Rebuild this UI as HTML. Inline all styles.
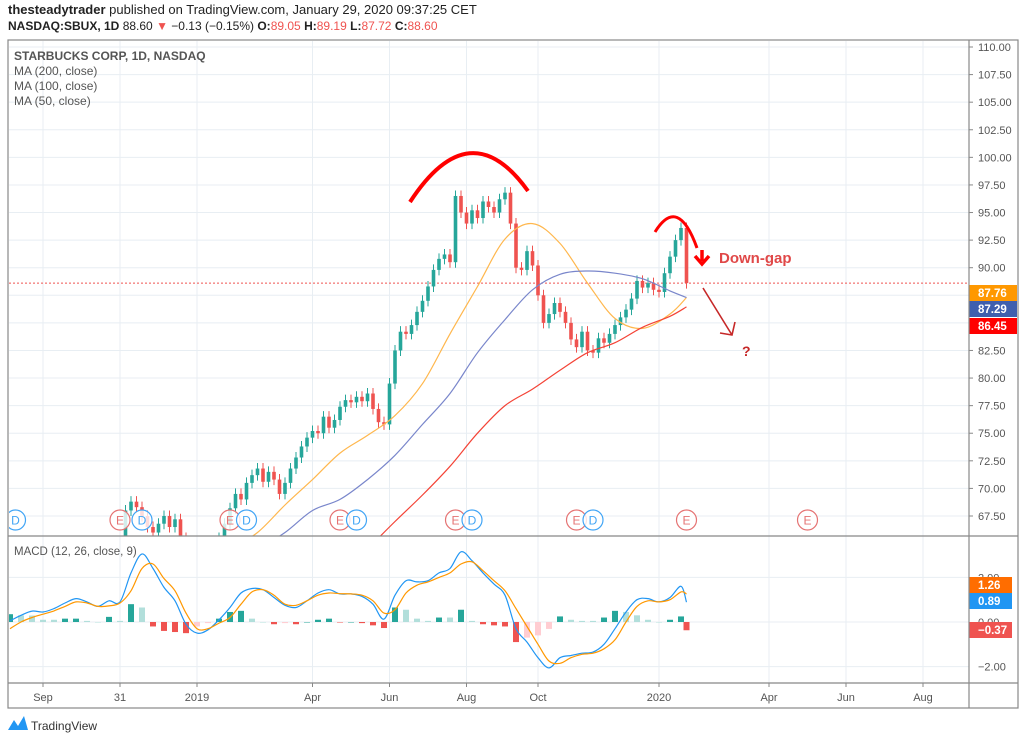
<!DOCTYPE html>
<html><head><meta charset="utf-8">
<style>
body{margin:0;background:#fff;width:1024px;height:742px;overflow:hidden;font-family:"Liberation Sans",sans-serif;}
svg text{font-family:"Liberation Sans",sans-serif;}
</style></head>
<body>
<svg id="c" width="1024" height="742" viewBox="0 0 1024 742" xmlns="http://www.w3.org/2000/svg">
<text x="8" y="14" font-size="13" fill="#222"><tspan font-weight="bold">thesteadytrader</tspan> published on TradingView.com, January 29, 2020 09:37:25 CET</text>
<text x="8" y="30" font-size="12" fill="#222"><tspan font-weight="bold">NASDAQ:SBUX, 1D</tspan> 88.60 <tspan fill="#ef5350">▼</tspan> −0.13 (−0.15%) <tspan font-weight="bold">O:</tspan><tspan fill="#ef5350">89.05</tspan> <tspan font-weight="bold">H:</tspan><tspan fill="#ef5350">89.19</tspan> <tspan font-weight="bold">L:</tspan><tspan fill="#ef5350">87.72</tspan> <tspan font-weight="bold">C:</tspan><tspan fill="#ef5350">88.60</tspan></text>
<defs>
<clipPath id="mainClip"><rect x="9" y="41" width="960" height="495"/></clipPath>
<clipPath id="macdClip"><rect x="9" y="537" width="960" height="146"/></clipPath>
</defs>
<g id="grid"></g>
<g id="main" clip-path="url(#mainClip)"></g>
<g id="macd" clip-path="url(#macdClip)"></g>
<g id="axes"></g>
<g id="frame">
<rect x="8" y="40" width="1010" height="668" fill="none" stroke="#888" stroke-width="1.2"/>
<line x1="969" y1="40" x2="969" y2="708" stroke="#888" stroke-width="1.2"/>
<line x1="8" y1="536" x2="1018" y2="536" stroke="#888" stroke-width="1.2"/>
<line x1="8" y1="683" x2="1018" y2="683" stroke="#888" stroke-width="1.2"/>
</g>
<text x="14" y="60" font-size="12" fill="#555" font-weight="bold">STARBUCKS CORP, 1D, NASDAQ</text>
<text x="14" y="75" font-size="12" fill="#555">MA (200, close)</text>
<text x="14" y="90" font-size="12" fill="#555">MA (100, close)</text>
<text x="14" y="105" font-size="12" fill="#555">MA (50, close)</text>
<text x="14" y="555" font-size="11.5" fill="#555">MACD (12, 26, close, 9)</text>
<g>
<path d="M410,202 Q470,110 528,191" fill="none" stroke="#f00" stroke-width="4"/>
<path d="M655,232 Q678,195 697,248" fill="none" stroke="#f00" stroke-width="3"/>
<path d="M702,250 L702,261 M695,256 L702,264 L709,256" fill="none" stroke="#f00" stroke-width="3.5"/>
<text x="719" y="263" font-size="15" font-weight="bold" fill="#e04848">Down-gap</text>
<path d="M703,288 L732,335 M720,333 L732,335 L735,322" fill="none" stroke="#c62828" stroke-width="1.6"/>
<text x="742" y="356" font-size="14" font-weight="bold" fill="#c62828">?</text>
</g>
<g>
<path d="M8,730 L14,720 L18,726 L24,716 L28,730 Z" fill="#2196f3"/>
<text x="31" y="730" font-size="12" fill="#333">TradingView</text>
</g>
</svg>
<script>
const closes=[52.5,53,52.8,53.5,54.5,55,55.5,56,56.5,57,56.8,57.2,57,57.5,58,57.5,58,58.5,58.6,59,
65,68,68.8,68.3,67.5,66.5,66,66.8,67.5,66.5,67.2,65.5,64,63,62.5,63.5,64.5,65,65.5,66.8,
68.2,69.5,69,70.5,71.2,71.8,70.6,71.5,70.8,69.5,70.5,71.8,72.8,73.8,74.6,75.2,75,76.5,75.5,76.2,
77.4,78,77.8,78.3,77.9,78.6,77.2,76,75.8,79.5,82.5,84.2,84,84.8,86,87,88.3,89.8,90.8,91.2,
90.5,96.5,95,94,95.2,94.5,96,95.5,95,96.2,96.8,94,90,89.8,91.5,90.2,87.5,85,85.8,86.8,
86,85,83.5,82.8,84.2,82.5,82.3,83.6,83.2,84,84.8,85.5,86.2,87.2,88.8,88.2,88.6,88,87.8,89.5,
91,92.5,93.6,88.6];
const maIdx=[40,45,50,55,60,65,70,75,80,85,90,95,100,105,110,115,120,123];
const ma50=[64.5,66,68.5,70.8,73.2,74.8,76.6,79.5,84,88.3,92.6,94,92.2,88.6,85.4,84.5,85.8,87.3];
const ma100=[null,64.5,66,68,69,70.8,73,75.8,78.6,82.3,85.3,88,89.4,89.7,89.5,89,87.9,87.3];
const ma200=[null,null,null,null,null,64.5,67,69.4,72,75,77.5,79,80.7,82.3,83.2,84.6,85.6,86.45];
const macdIdx=[0,2,4,6,8,10,12,14,16,18,20,22,24,26,28,30,32,34,36,38,40,42,44,46,48,50,52,54,56,58,60,62,64,66,68,70,72,74,76,78,80,82,84,86,88,90,92,94,96,98,100,102,104,106,108,110,112,114,116,118,120,122,123];
const macdLine=[0.05,0.3,0.49,0.45,0.6,0.85,1.05,0.9,0.7,0.95,0.9,2.2,3.05,2.4,1.55,0.95,-0.1,-0.5,-0.35,0.1,0.65,1.3,1.5,1.45,1.1,0.75,0.65,0.95,1.3,1.45,1.26,1.26,1.15,0.8,0.13,1.2,1.85,1.8,1.85,2.2,2.4,3.15,2.75,2.2,1.7,1.2,-0.3,-0.9,-1.6,-2.06,-1.6,-1.5,-1.4,-1.35,-1.0,-0.3,0.45,1.0,1.05,0.9,1.1,1.6,0.89];
const signalLine=[-0.3,0.0,0.2,0.35,0.5,0.7,0.9,0.85,0.7,0.72,0.85,1.4,2.4,2.6,1.95,1.4,0.4,-0.3,-0.3,-0.05,0.2,0.8,1.35,1.45,1.2,0.8,0.75,0.95,1.2,1.3,1.27,1.26,1.2,0.95,0.4,0.55,1.3,1.65,1.8,2.0,2.2,2.6,2.7,2.3,1.85,1.4,0.6,-0.2,-1.0,-1.75,-1.85,-1.6,-1.45,-1.4,-1.2,-0.8,0.0,0.7,0.95,0.9,1.0,1.35,1.26];
const priceTicks=["110.00","107.50","105.00","102.50","100.00","97.50","95.00","92.50","90.00","87.50","85.00","82.50","80.00","77.50","75.00","72.50","70.00","67.50"];
const macdTicks=["2.00","0.00","-2.00"];
const timeLabels=["Sep","31","2019","Apr","Jun","Aug","Oct","2020","Apr","Jun","Aug"];
const timeIdx=[6,20,34,55,69,83,96,118,138,152,166];
const events=[["D",1],["E",20],["D",24],["E",40],["D",43],["E",60],["D",63],["E",81],["D",84],["E",103],["D",106],["E",123],["E",145]];

const NS="http://www.w3.org/2000/svg";
function xs(k){return 10+k*5.5;}
function ys(p){return 47+(110-p)*11.035;}
function ym(v){return 622-v*22.3;}
function mk(tag,attrs,parent){const e=document.createElementNS(NS,tag);for(const a in attrs)e.setAttribute(a,attrs[a]);parent.appendChild(e);return e;}
const grid=document.getElementById('grid'),main=document.getElementById('main'),macd=document.getElementById('macd'),axes=document.getElementById('axes');

priceTicks.forEach(t=>{const y=ys(parseFloat(t));
 const l=mk('line',{x1:9,x2:969,y1:y,y2:y,stroke:'#e8eef3'},grid);
 
 
 const tx=mk('text',{x:978,y:y+4,'font-size':11,fill:'#555'},axes);
 
 
 tx.textContent=t;
 mk('line',{x1:969,x2:973,y1:y,y2:y,stroke:'#888'},axes);});
macdTicks.forEach(t=>{const y=ym(parseFloat(t));
 const l=mk('line',{x1:9,x2:969,y1:y,y2:y,stroke:'#e8eef3'},grid);
 
 
 const tx=mk('text',{x:978,y:y+4,'font-size':11,fill:'#555'},axes);
 
 
 tx.textContent=t.replace('-','−');});
timeLabels.forEach((t,i)=>{const x=xs(timeIdx[i]);
 const l=mk('line',{x1:x,x2:x,y1:41,y2:683,stroke:'#e8eef3'},grid);
 
 
 mk('line',{x1:x,x2:x,y1:683,y2:687,stroke:'#888'},axes);
 const tx=mk('text',{x:x,y:701,'font-size':11,fill:'#555','text-anchor':'middle'},axes);
 
 
 tx.textContent=t;});

const pl=mk('line',{x1:9,x2:969,y1:ys(88.6),y2:ys(88.6),stroke:'#ef5350','stroke-dasharray':'2,2'},main);



closes.forEach((c,k)=>{const o=k>0?closes[k-1]:c;const up=c>=o;const col=up?'#26a69a':'#ef5350';
 const x=xs(k);const hi=Math.max(o,c)+0.5,lo=Math.min(o,c)-0.5;
 const g=mk('g',{},main);
 
 
 mk('line',{x1:x,x2:x,y1:ys(hi),y2:ys(lo),stroke:col,'stroke-width':1},g);
 const top=ys(Math.max(o,c)),bot=ys(Math.min(o,c));
 mk('rect',{x:x-1.8,y:top,width:3.6,height:Math.max(1,bot-top),fill:col},g);});

function line(idx,vals,fy,col,parent,name,w){
 const pts=[];vals.forEach((v,i)=>{if(v!==null)pts.push([xs(idx[i]),fy(v)]);});
 let d='M'+pts[0][0].toFixed(1)+','+pts[0][1].toFixed(1);
 for(let i=0;i<pts.length-1;i++){const p0=pts[Math.max(0,i-1)],p1=pts[i],p2=pts[i+1],p3=pts[Math.min(pts.length-1,i+2)];
  const c1x=p1[0]+(p2[0]-p0[0])/6,c1y=p1[1]+(p2[1]-p0[1])/6,c2x=p2[0]-(p3[0]-p1[0])/6,c2y=p2[1]-(p3[1]-p1[1])/6;
  d+='C'+c1x.toFixed(1)+','+c1y.toFixed(1)+' '+c2x.toFixed(1)+','+c2y.toFixed(1)+' '+p2[0].toFixed(1)+','+p2[1].toFixed(1);}
 const p=mk('path',{d:d,fill:'none',stroke:col,'stroke-width':w||1.2},parent);
 
 }
line(maIdx,ma50,ys,'#ffb74d',main,'ma50-line');
line(maIdx,ma100,ys,'#7986cb',main,'ma100-line');
line(maIdx,ma200,ys,'#f44336',main,'ma200-line');

events.forEach(([t,k])=>{const col=t==='E'?'#e57373':'#42a5f5';
 const g=mk('g',{},main);
 
 
 mk('circle',{cx:xs(k),cy:520,r:10,fill:'rgba(255,255,255,0.8)',stroke:col,'stroke-width':1.2},g);
 const tx=mk('text',{x:xs(k),y:524.5,'font-size':12,fill:col,'text-anchor':'middle'},g);
 tx.textContent=t;});

macdIdx.forEach((k,i)=>{const h=macdLine[i]-signalLine[i];const prev=i>0?macdLine[i-1]-signalLine[i-1]:h;
 let col;if(h>=0)col=h>=prev?'#26a69a':'#b2dfdb';else col=h<=prev?'#ef5350':'#ffcdd2';
 const y0=ym(0),y1=ym(h);
 const r=mk('rect',{x:xs(k)-3,y:Math.min(y0,y1),width:6,height:Math.max(0.5,Math.abs(y1-y0)),fill:col},macd);
 
 });
line(macdIdx,macdLine,ym,'#2196f3',macd,'macd-line');
line(macdIdx,signalLine,ym,'#ff9800',macd,'signal-line');

function badge(y,txt,col,w,name){const g=mk('g',{},axes);
 
 
 mk('rect',{x:969,y:y-8,width:w,height:16,fill:col},g);
 const tx=mk('text',{x:978,y:y+4,'font-size':11.5,fill:'#fff','font-weight':'bold'},g);
 tx.textContent=txt;}
badge(293,'87.76','#ff9800',48,'ma50-value-badge');
badge(309,'87.29','#3f5fae',48,'ma100-value-badge');
badge(326,'86.45','#ff0000',48,'ma200-value-badge');
badge(585,'1.26','#ff6d00',43,'signal-value-badge');
badge(601,'0.89','#2196f3',43,'macd-value-badge');
badge(630,'−0.37','#ef5350',43,'histogram-value-badge');
</script>
</body></html>
